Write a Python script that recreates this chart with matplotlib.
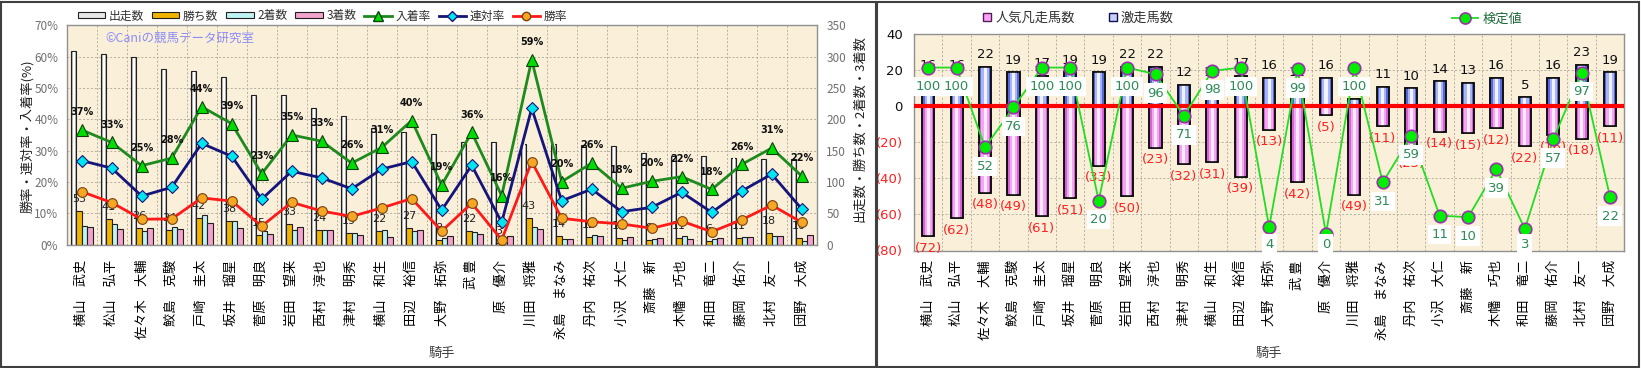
import numpy as np
import matplotlib
matplotlib.use('Agg')
import matplotlib.pyplot as plt
from matplotlib.patches import Rectangle, Patch
from matplotlib.lines import Line2D

plt.rcParams['font.family'] = ['Noto Sans CJK JP', 'DejaVu Sans']

# ---- data ----
jockeys = ['横山　武史', '松山　弘平', '佐々木　大輔', '鮫島　克駿', '戸崎　圭太', '坂井　瑠星',
           '菅原　明良', '岩田　望来', '西村　淳也', '津村　明秀', '横山　和生', '田辺　裕信',
           '大野　拓弥', '武 豊', '原　優介', '川田　将雅', '永島　まなみ', '丹内　祐次',
           '小沢　大仁', '斎藤　新', '木幡　巧也', '和田　竜二', '藤岡　佑介', '北村　友一', '団野　大成']

starts = [309, 304, 299, 280, 277, 267, 239, 238, 218, 205, 186, 179, 176,
          163, 163, 161, 161, 159, 157, 146, 141, 141, 139, 137, 137]
wins = [53, 41, 26, 24, 42, 38, 15, 33, 24, 19, 22, 27, 8, 22, 3, 43, 14, 12, 11, 8, 11, 6, 11, 18, 10]
seconds = [30, 33, 22, 28, 47, 38, 21, 23, 24, 18, 23, 21, 11, 20, 9, 28, 9, 16, 7, 9, 13, 9, 12, 14, 6]
thirds = [28, 25, 27, 25, 34, 26, 17, 28, 24, 16, 12, 23, 14, 17, 14, 25, 9, 13, 12, 10, 9, 11, 12, 13, 15]

place_rate = [36.6, 32.6, 25.2, 27.6, 44.0, 38.6, 22.6, 35.0, 33.0, 26.0, 31.0, 39.6, 19.0,
              35.8, 15.6, 59.0, 20.1, 26.0, 18.0, 20.2, 21.7, 17.6, 25.6, 30.8, 21.9]
quinella_rate = [26.8, 24.4, 15.5, 18.3, 32.3, 28.2, 14.5, 23.4, 21.3, 17.8, 24.1, 26.5, 11.0,
                 25.3, 7.1, 43.5, 14.0, 17.7, 10.5, 11.9, 16.7, 10.3, 17.1, 22.5, 11.4]
win_rate = [16.9, 13.4, 8.1, 8.2, 14.9, 13.9, 5.9, 13.5, 10.7, 9.0, 11.7, 14.7, 4.3,
            13.2, 1.5, 26.5, 8.4, 7.3, 6.6, 5.2, 7.5, 4.1, 7.9, 12.6, 7.1]

surge = [16, 16, 22, 19, 17, 19, 19, 22, 22, 12, 12, 17, 16, 12, 16, 4, 11, 10, 14, 13, 16, 5, 16, 23, 19]
flop = [72, 62, 48, 49, 61, 51, 33, 50, 23, 32, 31, 39, 13, 42, 5, 49, 11, 25, 14, 15, 12, 22, 16, 18, 11]
test_val = [100, 100, 52, 76, 100, 100, 20, 100, 96, 71, 98, 100, 4, 99, 0, 100, 31, 59, 11, 10, 39, 3, 57, 97, 22]

W, H = 1641, 368
fig = plt.figure(figsize=(W / 100, H / 100), dpi=100)
fig.patch.set_facecolor('white')

# panel frames
fig.patches.append(Rectangle((1 / W, 1 / H), 875 / W, 365 / H, transform=fig.transFigure,
                             fill=False, ec='#404040', lw=1.5))
fig.patches.append(Rectangle((877 / W, 1 / H), 762 / W, 365 / H, transform=fig.transFigure,
                             fill=False, ec='#404040', lw=1.5))

x = np.arange(len(jockeys))
bg = '#FAF0DA'
gridc = '#B5AEA0'

# ================= left chart =================
ax = fig.add_axes([66.7 / W, 1 - 244.6 / H, 750 / W, 219.3 / H])
ax.set_facecolor(bg)
ax2 = ax.twinx()
w = 0.185
st = np.array(starts)
ax.bar(x - 1.5 * w, st, w, color='#B8B8B8', edgecolor='#202020', linewidth=0.8, zorder=2)
ax.bar(x - 1.5 * w + 0.02, st - 1.2, w * 0.45, color='white', linewidth=0, zorder=2.1)
ax.bar(x - 0.5 * w, wins, w, color='#F0B400', edgecolor='#202020', linewidth=0.8, zorder=2)
ax.bar(x + 0.5 * w, seconds, w, color='#BFF3F3', edgecolor='#202020', linewidth=0.8, zorder=2)
ax.bar(x + 1.5 * w, thirds, w, color='#F3A3CC', edgecolor='#202020', linewidth=0.8, zorder=2)
for i in range(len(x)):
    ax.text(x[i] - 0.5 * w, wins[i] + 19, str(wins[i]), ha='center', va='center',
            fontsize=8, color='#202020', family='DejaVu Sans', zorder=6)

ax.set_xlim(-0.5, len(x) - 0.5)
ax.set_ylim(0, 350)
ax.set_yticks(range(0, 351, 50))
ax.yaxis.tick_right()
ax.tick_params(axis='y', labelsize=8.5, labelcolor='#707070', length=0, pad=7)
ax.set_xticks(x)
ax.set_xticklabels(jockeys, rotation=90, va='top', fontsize=9.5)
ax.tick_params(axis='x', length=0, pad=11)
ax.set_xticks(x[:-1] + 0.5, minor=True)
ax.tick_params(axis='x', which='minor', length=0)
ax.grid(axis='y', color=gridc, ls=(0, (2, 2)), lw=0.7, zorder=1)
ax.grid(axis='x', which='minor', color=gridc, ls=(0, (2, 2)), lw=0.7, zorder=1)
for s in ax.spines.values():
    s.set_color('#909090')
    s.set_linewidth(1)

ax2.yaxis.tick_left()
ax2.set_ylim(0, 70)
ax2.set_yticks(range(0, 71, 10))
ax2.set_yticklabels([f'{v}%' for v in range(0, 71, 10)])
ax2.tick_params(axis='y', labelsize=8.5, labelcolor='#707070', length=0, pad=6)
for s in ax2.spines.values():
    s.set_visible(False)

ax2.plot(x, place_rate, color='#1E8A1E', lw=2, marker='^', ms=9, mfc='#00DD00', mec='#0E400E',
         mew=0.8, zorder=5)
ax2.plot(x, quinella_rate, color='#14147A', lw=2, marker='D', ms=6, mfc='#00E5EE', mec='#14147A',
         mew=0.8, zorder=5)
ax2.plot(x, win_rate, color='#FF1A1A', lw=2, marker='o', ms=7, mfc='#F5A623', mec='#7A4010',
         mew=0.8, zorder=5)
for i in range(len(x)):
    ax2.text(x[i], place_rate[i] + 5.7, f'{round(place_rate[i])}%', ha='center', va='center',
             fontsize=7, fontweight='bold', family='DejaVu Sans', color='#101010', zorder=6)

fig.text(27 / W, 1 - 136 / H, '勝率・連対率・入着率(%)', rotation=90, ha='center', va='center',
         fontsize=9.5, color='#202020')
fig.text(860 / W, 1 - 128 / H, '出走数・勝ち数・2着数・3着数', rotation=90, ha='center', va='center',
         fontsize=9.5, color='#202020')
fig.text(105 / W, 1 - 38 / H, '©Caniの競馬データ研究室', ha='left', va='center',
         fontsize=9, color='#8C8CF5')
fig.text(441.7 / W, 1 - 353 / H, '騎手', ha='center', va='center', fontsize=9.5, color='#404040')

lh = [Patch(fc='#E8E8E8', ec='#202020', lw=0.8), Patch(fc='#F0B400', ec='#202020', lw=0.8),
      Patch(fc='#BFF3F3', ec='#202020', lw=0.8), Patch(fc='#F3A3CC', ec='#202020', lw=0.8),
      Line2D([], [], color='#1E8A1E', lw=2, marker='^', ms=7, mfc='#00DD00', mec='#0E400E'),
      Line2D([], [], color='#14147A', lw=2, marker='D', ms=5, mfc='#00E5EE', mec='#14147A'),
      Line2D([], [], color='#FF1A1A', lw=2, marker='o', ms=6, mfc='#F5A623', mec='#7A4010')]
fig.legend(lh, ['出走数', '勝ち数', '2着数', '3着数', '入着率', '連対率', '勝率'],
           loc='center left', bbox_to_anchor=(78 / W, 1 - 16 / H), ncol=7, frameon=False,
           fontsize=8.5, handlelength=2.3, handleheight=0.4, handletextpad=0.3,
           columnspacing=0.7, borderaxespad=0, borderpad=0, labelcolor='#303030')

# ================= right chart =================
ax3 = fig.add_axes([914 / W, 1 - 250.5 / H, 710.3 / W, 216.2 / H])
ax3.set_facecolor(bg)
bw = 0.43
neg = -np.array(flop)
pos = np.array(surge)
ax3.bar(x, neg, bw, color='#D860D8', edgecolor='#101010', linewidth=1.2, zorder=2)
ax3.bar(x, neg, bw * 0.6, color='#F0A8F0', linewidth=0, zorder=2.1)
ax3.bar(x, neg, bw * 0.25, color='#FFEAFF', linewidth=0, zorder=2.2)
ax3.bar(x, pos, bw, color='#5468E0', edgecolor='#101010', linewidth=1.2, zorder=2)
ax3.bar(x, pos, bw * 0.6, color='#A8B4F4', linewidth=0, zorder=2.1)
ax3.bar(x, pos, bw * 0.25, color='#F0F2FF', linewidth=0, zorder=2.2)
# redraw outlines on top of inner layers
ax3.bar(x, neg, bw, fill=False, edgecolor='#101010', linewidth=1.2, zorder=2.3)
ax3.bar(x, pos, bw, fill=False, edgecolor='#101010', linewidth=1.2, zorder=2.3)
ax3.axhline(0, color='#FF0000', lw=3, zorder=3)

for i in range(len(x)):
    ax3.annotate(str(surge[i]), (x[i], surge[i]), xytext=(0, 4), textcoords='offset points',
                 ha='center', va='bottom', fontsize=9.5, family='DejaVu Sans', color='#101010',
                 zorder=4)
    ax3.annotate(f'({flop[i]})', (x[i], -flop[i]), xytext=(0, -4), textcoords='offset points',
                 ha='center', va='top', fontsize=9.5, family='DejaVu Sans', color='#FF2020',
                 zorder=4, annotation_clip=False)

ax3.set_xlim(-0.5, len(x) - 0.5)
ax3.set_ylim(-80, 40)
yt = [40, 20, 0, -20, -40, -60, -80]
ax3.set_yticks(yt)
ax3.set_yticklabels([str(v) if v >= 0 else f'({-v})' for v in yt], family='DejaVu Sans')
for t, v in zip(ax3.get_yticklabels(), yt):
    t.set_color('#101010' if v >= 0 else '#FF2020')
ax3.tick_params(axis='y', labelsize=9.5, length=0, pad=8)
ax3.set_xticks(x)
ax3.set_xticklabels(jockeys, rotation=90, va='top', fontsize=9.5)
ax3.tick_params(axis='x', length=0, pad=7)
ax3.set_xticks(x[:-1] + 0.5, minor=True)
ax3.tick_params(axis='x', which='minor', length=0)
ax3.grid(axis='y', color=gridc, ls=(0, (2, 2)), lw=0.7, zorder=1)
ax3.grid(axis='x', which='minor', color=gridc, ls=(0, (2, 2)), lw=0.7, zorder=1)
for s in ax3.spines.values():
    s.set_color('#909090')
    s.set_linewidth(1)

ax4 = ax3.twinx()
ax4.set_ylim(-10, 120)
ax4.set_yticks([])
for s in ax4.spines.values():
    s.set_visible(False)
ax4.plot(x, test_val, color='#22DD22', lw=1.3, marker='o', ms=9, mfc='#00EE00', mec='#9933AA',
         mew=1.2, zorder=5)
per_px = 130 / 216.2
for i in range(len(x)):
    ly = max(test_val[i] - 19 * per_px, -10 + 6.5 * per_px)
    ax4.text(x[i], ly, str(test_val[i]), ha='center', va='center', fontsize=9.5,
             family='DejaVu Sans', color='#2E8B57', zorder=6,
             bbox=dict(boxstyle='square,pad=0.25', fc='white', ec='none'))

fig.text(1269 / W, 1 - 353 / H, '騎手', ha='center', va='center', fontsize=9.5, color='#404040')

rh = [Line2D([], [], ls='none', marker='s', ms=6, mfc='#FFA0FF', mec='#502050', mew=1),
      Line2D([], [], ls='none', marker='s', ms=6, mfc='#C8D0FF', mec='#101050', mew=1)]
fig.legend(rh, ['人気凡走馬数', '激走馬数'], loc='center left', bbox_to_anchor=(982 / W, 1 - 18 / H),
           ncol=2, frameon=False, fontsize=9.5, handlelength=0.8, handletextpad=0.2,
           columnspacing=2.5, borderaxespad=0, borderpad=0, labelcolor='#303030')
gh = [Line2D([], [], color='#22DD22', lw=1.3, marker='o', ms=8, mfc='#00EE00', mec='#9933AA', mew=1.2)]
fig.legend(gh, ['検定値'], loc='center left', bbox_to_anchor=(1452 / W, 1 - 19 / H),
           frameon=False, fontsize=9.5, handlelength=2.0, handletextpad=0.3,
           borderaxespad=0, borderpad=0, labelcolor='#1E6B3A')

fig.savefig('out.png', dpi=100)
